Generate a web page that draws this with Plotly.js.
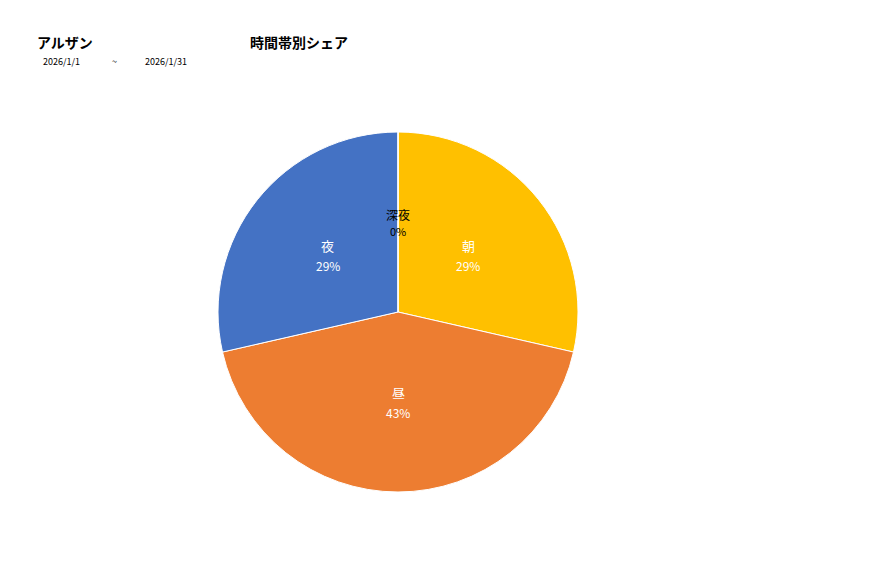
<!DOCTYPE html>
<html>
<head>
<meta charset="utf-8">
<script src="https://cdn.plot.ly/plotly-3.0.1.min.js"></script>
<style>
  html, body { margin: 0; padding: 0; background: #fff; }
  #plot { width: 877px; height: 578px; }
</style>
</head>
<body>
<div id="plot"></div>
<script>
const shopName = 'アルザン';
const chartTitle = '時間帯別シェア';
const dateFrom = '2026/1/1';
const dateTo = '2026/1/31';

const slots = ['朝', '昼', '夜', '深夜'];
const counts = [2, 3, 2, 0];
const colors = ['#FFC000', '#ED7D31', '#4472C4', '#A5A5A5'];

const FONT = '"Noto Sans CJK JP", "Noto Sans", sans-serif';
const W = 877, H = 578;
const cx = 398, cy = 312, r = 180;
const dom = {
  x: [(cx - r) / W, (cx + r) / W],
  y: [(H - cy - r) / H, (H - cy + r) / H]
};

// data labels: Excel-style, halfway out along each slice's middle angle
const total = counts.reduce((a, b) => a + b, 0);
const labelNotes = [];
let acc = 0;
counts.forEach((v, i) => {
  const mid = ((acc + v / 2) / total) * 2 * Math.PI;
  const px = (cx + Math.sin(mid) * r * 0.5) / W;
  const py = (H - cy + Math.cos(mid) * r * 0.5) / H;
  const col = v === 0 ? '#000' : '#fff';
  const pct = Math.round(v / total * 100) + '%';
  const base = { xref: 'paper', yref: 'paper', x: px, y: py, showarrow: false,
    xanchor: 'center', yanchor: 'middle' };
  labelNotes.push(Object.assign({}, base, { text: slots[i], yshift: v === 0 ? 8 : 10,
    font: { family: FONT, size: v === 0 ? 12 : 13, color: col } }));
  labelNotes.push(Object.assign({}, base, { text: pct, yshift: v === 0 ? -9 : -10,
    font: { family: FONT, size: v === 0 ? 11 : 12, color: col } }));
  acc += v;
});

const data = [{
  type: 'pie',
  labels: slots,
  values: counts,
  sort: false,
  direction: 'clockwise',
  rotation: 0,
  marker: { colors: colors, line: { color: '#ffffff', width: 1 } },
  textinfo: 'none',
  hoverinfo: 'label+percent',
  domain: dom
}];

const headText = (t, x, y, size, bold) => ({
  xref: 'paper', yref: 'paper', x: x / W, y: 1 - y / H, xanchor: 'left', yanchor: 'middle',
  text: bold ? '<b>' + t + '</b>' : t, showarrow: false,
  font: { family: FONT, size: size, color: '#000' }
});

const layout = {
  width: W,
  height: H,
  margin: { l: 0, r: 0, t: 0, b: 0 },
  paper_bgcolor: '#fff',
  showlegend: false,
  font: { family: FONT },
  annotations: [
    headText(shopName, 35, 42, 14, true),
    headText(chartTitle, 248, 42, 14, true),
    headText(dateFrom, 41, 62, 9, false),
    headText('~', 110, 62, 9, false),
    headText(dateTo, 143, 62, 9, false)
  ].concat(labelNotes)
};

Plotly.newPlot('plot', data, layout, { displayModeBar: false, staticPlot: true });
</script>
</body>
</html>
